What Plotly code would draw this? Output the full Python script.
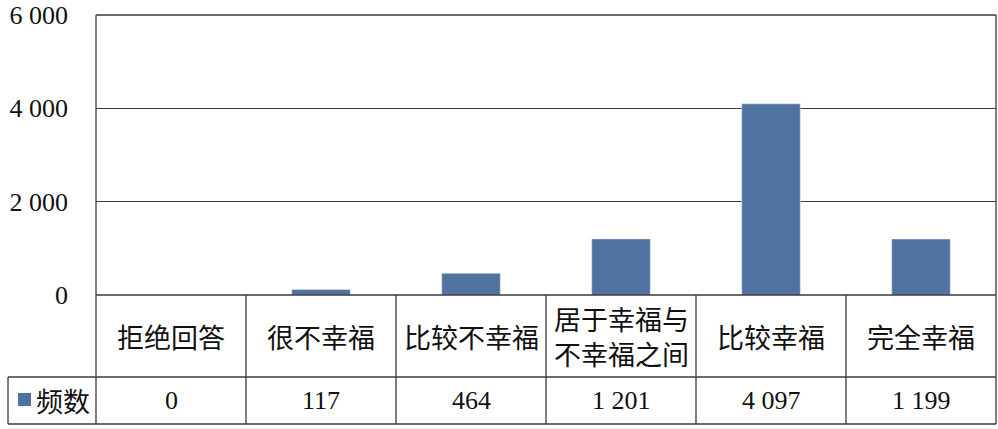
import plotly.graph_objects as go

# 数据
categories = ["拒绝回答", "很不幸福", "比较不幸福", "居于幸福与<br>不幸福之间", "比较幸福", "完全幸福"]
counts = [0, 117, 464, 1201, 4097, 1199]
series_name = "频数"
y_ticks = [0, 2000, 4000, 6000]

W, H = 998, 429
bar_color = "#4F72A0"
line_color = "#3a3a3a"


def px_x(v):
    return v / W


def px_y(v):
    return 1 - v / H


# 像素位置
plot_left, plot_right = 96, 996
plot_top, plot_bottom = 15, 295
row1_bottom, row2_bottom = 377, 424
legend_left = 8

fig = go.Figure()
fig.add_trace(go.Bar(
    x=list(range(len(categories))),
    y=counts,
    marker_color=bar_color,
    width=0.39,
    name=series_name,
))

fig.update_layout(
    width=W, height=H,
    margin=dict(l=0, r=0, t=0, b=0, autoexpand=False),
    plot_bgcolor="white",
    paper_bgcolor="white",
    showlegend=False,
    separators=". ",
    xaxis=dict(
        domain=[px_x(plot_left), px_x(plot_right)],
        range=[-0.5, len(categories) - 0.5],
        showticklabels=False, showgrid=False, zeroline=False, ticks="",
        automargin=False,
    ),
    yaxis=dict(
        domain=[px_y(plot_bottom), px_y(plot_top)],
        range=[0, 6000],
        tickvals=y_ticks,
        tickformat=",d",
        showgrid=True, gridcolor=line_color, gridwidth=1.3,
        zeroline=False,
        automargin=False,
        ticklabelstandoff=27,
        tickfont=dict(family="Liberation Serif", size=26, color="#111"),
    ),
)

# 表格线
shapes = []


def hline(x0, x1, y):
    shapes.append(dict(type="line", xref="paper", yref="paper",
                       x0=px_x(x0), x1=px_x(x1), y0=px_y(y), y1=px_y(y),
                       line=dict(color=line_color, width=1.3)))


def vline(x, y0, y1):
    shapes.append(dict(type="line", xref="paper", yref="paper",
                       x0=px_x(x), x1=px_x(x), y0=px_y(y0), y1=px_y(y1),
                       line=dict(color=line_color, width=1.3)))


hline(plot_left, plot_right, plot_top)
hline(plot_left, plot_right, plot_bottom)
hline(legend_left, plot_right, row1_bottom)
hline(legend_left, plot_right, row2_bottom)
vline(plot_left, plot_top, row2_bottom)
vline(plot_right, plot_top, row2_bottom)
vline(legend_left, row1_bottom, row2_bottom)
cell_w = (plot_right - plot_left) / len(categories)
for i in range(1, len(categories)):
    vline(plot_left + i * cell_w, plot_bottom, row2_bottom)

# 图例色块
shapes.append(dict(type="rect", xref="paper", yref="paper",
                   x0=px_x(18), x1=px_x(31), y0=px_y(406), y1=px_y(393),
                   fillcolor=bar_color, line=dict(width=0)))
fig.update_layout(shapes=shapes)

# 表格文字
row1_mid = px_y((plot_bottom + row1_bottom) / 2)
row2_mid = px_y((row1_bottom + row2_bottom) / 2)
for i, (cat, val) in enumerate(zip(categories, counts)):
    fig.add_annotation(x=i, y=row1_mid, xref="x", yref="paper", text=cat,
                       showarrow=False, yanchor="middle",
                       font=dict(family="Noto Sans CJK SC", size=27, color="#111"))
    fig.add_annotation(x=i, y=row2_mid, xref="x", yref="paper",
                       text=f"{val:,}".replace(",", " "),
                       showarrow=False, yanchor="middle",
                       font=dict(family="Liberation Serif", size=26, color="#111"))

fig.add_annotation(x=px_x(34), y=row2_mid, xref="paper", yref="paper",
                   text=series_name, showarrow=False, xanchor="left", yanchor="middle",
                   font=dict(family="Noto Sans CJK SC", size=27, color="#111"))

# 去掉页面默认边距
fig.write_html("out.html", config={"displayModeBar": False},
               post_script="document.body.style.margin='0';document.body.style.overflow='hidden';")
